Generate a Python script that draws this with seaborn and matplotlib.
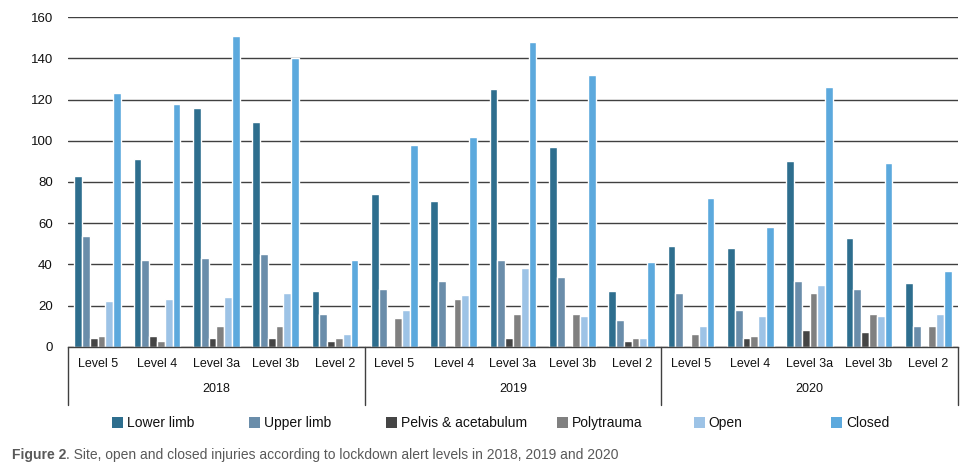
import matplotlib
matplotlib.use('Agg')
import matplotlib.pyplot as plt
import matplotlib.transforms as mtransforms
from matplotlib.patches import Patch
import pandas as pd
import seaborn as sns

years = ['2018', '2019', '2020']
levels = ['Level 5', 'Level 4', 'Level 3a', 'Level 3b', 'Level 2']
types = ['Lower limb', 'Upper limb', 'Pelvis & acetabulum', 'Polytrauma', 'Open', 'Closed']

# values read per year, in level order
lower_limb = [83, 91, 116, 109, 27, 74, 71, 125, 97, 27, 49, 48, 90, 53, 31]
upper_limb = [54, 42, 43, 45, 16, 28, 32, 42, 34, 13, 26, 18, 32, 28, 10]
pelvis = [4, 5, 4, 4, 3, 0, 0, 4, 0, 3, 0, 4, 8, 7, 0]
polytrauma = [5, 3, 10, 10, 4, 14, 23, 16, 16, 4, 6, 5, 26, 16, 10]
open_inj = [22, 23, 24, 26, 6, 18, 25, 38, 15, 4, 10, 15, 30, 15, 16]
closed_inj = [123, 118, 151, 140, 42, 98, 102, 148, 132, 41, 72, 58, 126, 89, 37]

colors = ['#2e6e8e', '#6a8daa', '#454545', '#808080', '#9dc3e6', '#5ca9dd']

cats = [y + ' ' + l for y in years for l in levels]
series = [lower_limb, upper_limb, pelvis, polytrauma, open_inj, closed_inj]
rows = []
for t, vals in zip(types, series):
    for c, v in zip(cats, vals):
        rows.append({'cat': c, 'type': t, 'value': v})
df = pd.DataFrame(rows)

sns.set_style('white')
plt.rcParams['font.family'] = ['Liberation Sans', 'DejaVu Sans']

fig = plt.figure(figsize=(9.78, 4.76), dpi=100)
ax = fig.add_axes([68 / 978, 1 - 346.7 / 476, 890 / 978, 329.4 / 476])

sns.barplot(data=df, x='cat', y='value', hue='type', order=cats, hue_order=types,
            palette=colors, width=0.79, saturation=1, legend=False, ax=ax)

ax.set_ylim(0, 160)
ax.set_yticks(range(0, 161, 20))
ax.set_xlim(-0.5, 14.5)
ax.yaxis.grid(True, color='#404040', linewidth=1)
ax.set_axisbelow(True)
for s in ['top', 'right', 'left']:
    ax.spines[s].set_visible(False)
ax.spines['bottom'].set_color('#404040')
ax.spines['bottom'].set_linewidth(1)
ax.set_xlabel('')
ax.set_ylabel('')
ax.set_xticks(range(len(cats)))
ax.set_xticklabels(levels * 3)
ax.tick_params(axis='x', length=0, pad=8, labelsize=9, labelcolor='#111111')
ax.tick_params(axis='y', length=0, pad=11, labelsize=9.5, labelcolor='#111111')

# year labels and separators below the axis
trans = mtransforms.blended_transform_factory(ax.transData, ax.transAxes)
for i, y in enumerate(years):
    ax.text(i * 5 + 2, -0.129, y, transform=trans, ha='center', va='center',
            fontsize=9, color='#111111')
for xb in [-0.5, 4.5, 9.5, 14.5]:
    ax.plot([xb, xb], [0, -0.177], transform=trans, color='#404040',
            linewidth=1, clip_on=False)

# legend entries spaced like the original
leg_x = [112, 249, 386, 557, 694, 831]
for t, c, x in zip(types, colors, leg_x):
    leg = fig.legend([Patch(facecolor=c, edgecolor='none')], [t], loc='center left',
                     bbox_to_anchor=(x / 978, 1 - 423 / 476),
                     frameon=False, borderpad=0, borderaxespad=0, handlelength=0.82,
                     handleheight=0.82, handletextpad=0.25, fontsize=10)
    for txt in leg.get_texts():
        txt.set_color('#111111')

# caption: bold "Figure 2" followed by plain text
cap1 = fig.text(12 / 978, 1 - 455 / 476, 'Figure 2', fontsize=10, fontweight='bold',
                color='#595959', va='center', ha='left')
fig.canvas.draw()
bb = cap1.get_window_extent().transformed(fig.transFigure.inverted())
fig.text(bb.x1, 1 - 455 / 476,
         '. Site, open and closed injuries according to lockdown alert levels in 2018, 2019 and 2020',
         fontsize=10, color='#595959', va='center', ha='left')

plt.savefig('out.png', dpi=100)
